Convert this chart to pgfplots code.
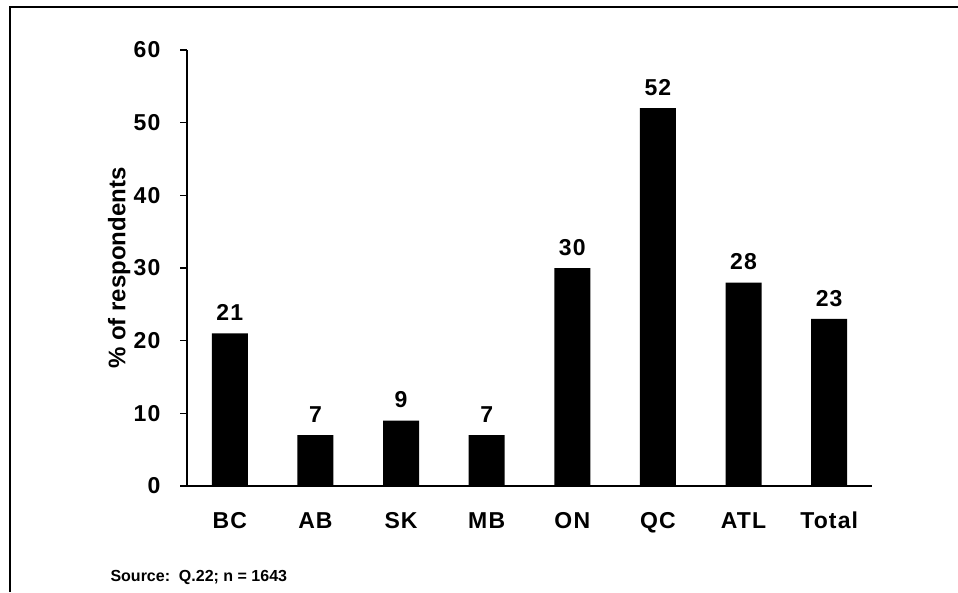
\documentclass[border=0pt]{standalone}
\usepackage{pgfplots}
\pgfplotsset{compat=1.18}
\usepackage{fontspec}
\setmainfont{Liberation Sans}
\newfontfamily\spaced[LetterSpace=5]{Liberation Sans}
\begin{document}
\begin{tikzpicture}
\useasboundingbox (0,0) rectangle (958pt,592pt);
\draw[line width=2.6pt] (10pt,0) -- (10pt,585pt) -- (958pt,585pt);
\begin{axis}[
  at={(187pt,106pt)}, anchor=south west,
  scale only axis, width=685pt, height=436pt,
  xmin=-0.5, xmax=7.5, ymin=0, ymax=60,
  axis lines*=left,
  axis line style={line width=1.8pt},
  every tick/.style={black, line width=1.5pt},
  tick align=outside,
  major tick length=7pt,
  ytick={0,10,...,60},
  xtick={0,...,7},
  xticklabels={BC,AB,SK,MB,ON,QC,ATL,Total},
  x tick style={draw=none},
  extra x ticks={-0.5,0.5,...,7.5},
  extra x tick labels={},
  extra x tick style={tick style={draw=black, line width=1.5pt}},
  xticklabel style={anchor=base, yshift=-35pt},
  yticklabel style={xshift=-16pt},
  ticklabel style={font=\fontsize{23}{27}\spaced\bfseries},
  /pgf/number format/assume math mode=true,
  ylabel={\% of respondents},
  ylabel style={font=\fontsize{24}{28}\selectfont\bfseries, at={(axis description cs:-0.099,0.5)}, anchor=center},
  ybar, bar width=36pt,
  nodes near coords,
  every node near coord/.append style={font=\fontsize{23}{27}\spaced\bfseries, yshift=9pt},
  clip=false,
]
\addplot[fill=black, draw=none] coordinates {(0,21) (1,7) (2,9) (3,7) (4,30) (5,52) (6,28) (7,23)};
\end{axis}
\node[anchor=west, font=\fontsize{16}{19}\selectfont\bfseries] at (107pt,15pt) {Source:\ \ Q.22; n = 1643};
\end{tikzpicture}
\end{document}
